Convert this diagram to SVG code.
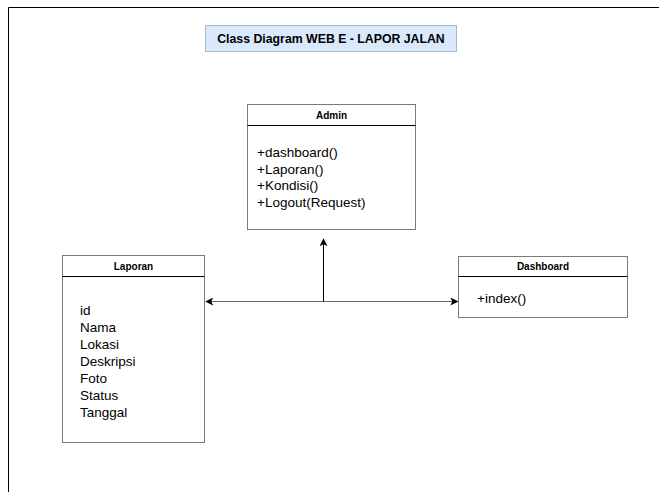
<svg xmlns="http://www.w3.org/2000/svg" width="659" height="492" viewBox="0 0 659 492">
  <defs>
    <marker id="arrow" viewBox="0 0 10 10" refX="9" refY="5" markerWidth="8" markerHeight="8" markerUnits="userSpaceOnUse" orient="auto-start-reverse">
      <path d="M0,0 L10,5 L0,10 L2.5,5 Z" fill="#000"/>
    </marker>
  </defs>
  <style>
    .frame { stroke: #000; stroke-width: 1; fill: none; }
    .box { fill: #fff; stroke: #7a7a7a; stroke-width: 1; }
    .sep { stroke: #000; stroke-width: 1; }
    .head { font-family: "Liberation Sans", Arial, sans-serif; font-size: 10px; font-weight: bold; text-anchor: middle; fill: #000; }
    .member { font-family: "Liberation Sans", Arial, sans-serif; font-size: 13.5px; fill: #000; }
    .title { font-family: "Liberation Sans", Arial, sans-serif; font-size: 12.3px; font-weight: bold; text-anchor: middle; fill: #000; }
  </style>
  <rect width="659" height="492" fill="#fff"/>

  <!-- page frame -->
  <path class="frame" d="M8.5,492 V7.5 H659"/>

  <!-- title -->
  <g id="title">
    <rect x="205.5" y="25.5" width="251" height="26" fill="#dae8fc" stroke="#a9b7cc"/>
    <text class="title" x="331" y="43">Class Diagram WEB E - LAPOR JALAN</text>
  </g>

  <!-- Admin class -->
  <g id="admin">
    <rect class="box" x="247.5" y="104.5" width="168" height="125"/>
    <line class="sep" x1="247.5" y1="125.5" x2="415.5" y2="125.5"/>
    <text class="head" x="331.5" y="118.5">Admin</text>
    <text class="member" x="257" y="157">+dashboard()</text>
    <text class="member" x="257" y="173.5">+Laporan()</text>
    <text class="member" x="257" y="190">+Kondisi()</text>
    <text class="member" x="257" y="206.5">+Logout(Request)</text>
  </g>

  <!-- Laporan class -->
  <g id="laporan">
    <rect class="box" x="62.5" y="255.5" width="142" height="187"/>
    <line class="sep" x1="62.5" y1="276.5" x2="204.5" y2="276.5"/>
    <text class="head" x="133.5" y="269.5">Laporan</text>
    <text class="member" x="80" y="315">id</text>
    <text class="member" x="80" y="332">Nama</text>
    <text class="member" x="80" y="349">Lokasi</text>
    <text class="member" x="80" y="366">Deskripsi</text>
    <text class="member" x="80" y="383">Foto</text>
    <text class="member" x="80" y="400">Status</text>
    <text class="member" x="80" y="417">Tanggal</text>
  </g>

  <!-- Dashboard class -->
  <g id="dashboard">
    <rect class="box" x="458.5" y="256.5" width="169" height="61"/>
    <line class="sep" x1="458.5" y1="276.5" x2="627.5" y2="276.5"/>
    <text class="head" x="543" y="270">Dashboard</text>
    <text class="member" x="477" y="303">+index()</text>
  </g>

  <!-- connectors -->
  <g id="connectors" fill="none">
    <line x1="206" y1="301.5" x2="457.5" y2="301.5" stroke="#666" stroke-width="1" marker-start="url(#arrow)" marker-end="url(#arrow)"/>
    <line x1="323.5" y1="301.5" x2="323.5" y2="239" stroke="#000" stroke-width="1" marker-end="url(#arrow)"/>
  </g>
</svg>
